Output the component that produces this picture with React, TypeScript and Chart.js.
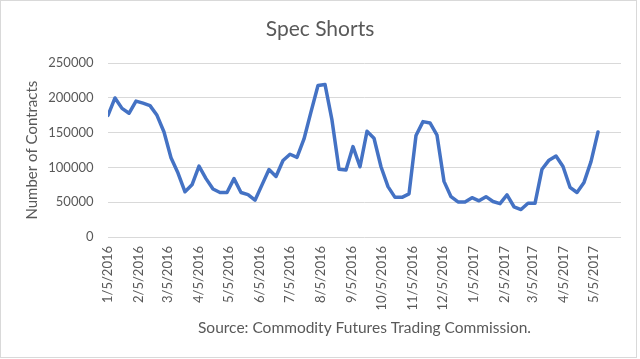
import React, { useEffect, useRef } from 'react';
import { Chart, registerables } from 'chart.js';

Chart.register(...registerables);

const weekDates: string[] = [
  '1/5/2016', '1/12/2016', '1/19/2016', '1/26/2016',
  '2/2/2016', '2/9/2016', '2/16/2016', '2/23/2016',
  '3/1/2016', '3/8/2016', '3/15/2016', '3/22/2016', '3/29/2016',
  '4/5/2016', '4/12/2016', '4/19/2016', '4/26/2016',
  '5/3/2016', '5/10/2016', '5/17/2016', '5/24/2016', '5/31/2016',
  '6/7/2016', '6/14/2016', '6/21/2016', '6/28/2016',
  '7/5/2016', '7/12/2016', '7/19/2016', '7/26/2016',
  '8/2/2016', '8/9/2016', '8/16/2016', '8/23/2016', '8/30/2016',
  '9/6/2016', '9/13/2016', '9/20/2016', '9/27/2016',
  '10/4/2016', '10/11/2016', '10/18/2016', '10/25/2016',
  '11/1/2016', '11/8/2016', '11/15/2016', '11/22/2016', '11/29/2016',
  '12/6/2016', '12/13/2016', '12/20/2016', '12/27/2016',
  '1/3/2017', '1/10/2017', '1/17/2017', '1/24/2017', '1/31/2017',
  '2/7/2017', '2/14/2017', '2/21/2017', '2/28/2017',
  '3/7/2017', '3/14/2017', '3/21/2017', '3/28/2017',
  '4/4/2017', '4/11/2017', '4/18/2017', '4/25/2017',
  '5/2/2017', '5/9/2017',
];

const specShorts: number[] = [
  175000, 200000, 185000, 178000,
  195500, 192500, 189000, 175000,
  151000, 114000, 92000, 65000, 75000,
  102000, 84000, 69000, 64000,
  64000, 84000, 64000, 61000, 53000,
  75000, 97000, 87000, 110000,
  119000, 114500, 141000, 180000,
  218000, 219500, 168000, 97500, 96500,
  130000, 101000, 152000, 142000,
  101000, 72500, 57000, 57000,
  62000, 146000, 166000, 164000, 146500,
  80000, 58000, 50500, 50500,
  56500, 52000, 58000, 51000, 48000,
  60500, 43500, 39500, 48500,
  48500, 97500, 110500, 116500,
  101500, 71500, 64000, 78500,
  108500, 151000,
];

const monthTickLabels: string[] = [
  '1/5/2016', '2/5/2016', '3/5/2016', '4/5/2016', '5/5/2016', '6/5/2016',
  '7/5/2016', '8/5/2016', '9/5/2016', '10/5/2016', '11/5/2016', '12/5/2016',
  '1/5/2017', '2/5/2017', '3/5/2017', '4/5/2017', '5/5/2017',
];

const axisEndDate = '6/1/2017';
const yTickValues: number[] = [0, 50000, 100000, 150000, 200000, 250000];

const chartTitle = 'Spec Shorts';
const yAxisTitle = 'Number of Contracts';
const sourceNote = 'Source: Commodity Futures Trading Commission.';

const TEXT = '#595959';
const GRID = '#D9D9D9';
const LINE = '#4472C4';
const FONT = 'Lato';

function toUTC(s: string): number {
  const [m, d, y] = s.split('/').map(Number);
  return Date.UTC(y, m - 1, d);
}
const origin = toUTC(weekDates[0]);
function dayOf(s: string): number {
  return Math.round((toUTC(s) - origin) / 86400000);
}

const frame = {
  id: 'frame',
  beforeDraw(chart: any) {
    const ctx = chart.ctx;
    ctx.save();
    ctx.fillStyle = '#ffffff';
    ctx.fillRect(0, 0, chart.width, chart.height);
    ctx.strokeStyle = GRID;
    ctx.lineWidth = 1;
    ctx.strokeRect(0.5, 0.5, 636, 357);
    ctx.restore();
  },
};

export default function App() {
  const ref = useRef<HTMLCanvasElement>(null);

  useEffect(() => {
    document.body.style.margin = '0';
    const tickDays = monthTickLabels.map(dayOf);
    const labelByDay = new Map<number, string>();
    tickDays.forEach((d, i) => labelByDay.set(d, monthTickLabels[i]));

    const chart = new Chart(ref.current as HTMLCanvasElement, {
      type: 'line',
      data: {
        datasets: [
          {
            label: chartTitle,
            data: weekDates.map((d, i) => ({ x: dayOf(d), y: specShorts[i] })),
            borderColor: LINE,
            backgroundColor: LINE,
            borderWidth: 3.5,
            pointRadius: 0,
            tension: 0,
            borderJoinStyle: 'round',
            borderCapStyle: 'round',
            fill: false,
            yAxisID: 'y',
          },
        ],
      },
      options: {
        responsive: false,
        animation: false,
        layout: { padding: { left: 0, right: 0, top: 0, bottom: 0 } },
        plugins: {
          legend: { display: false },
          tooltip: { enabled: false },
          title: {
            display: true,
            text: chartTitle,
            color: TEXT,
            font: { family: FONT, size: 21, weight: 'normal' },
            padding: { top: 17, bottom: 21 },
          },
        },
        scales: {
          x: {
            type: 'linear',
            min: 0,
            max: dayOf(axisEndDate),
            afterBuildTicks: (axis: any) => {
              axis.ticks = tickDays.map((v) => ({ value: v }));
            },
            afterFit: (axis: any) => {
              axis.height = 122;
            },
            grid: { display: false, drawTicks: false },
            border: { display: false },
            ticks: {
              autoSkip: false,
              maxRotation: 90,
              minRotation: 90,
              padding: 9,
              color: TEXT,
              font: { family: FONT, size: 13 },
              callback: (v: any) => labelByDay.get(Number(v)) ?? '',
            },
            title: {
              display: true,
              text: sourceNote,
              color: TEXT,
              font: { family: FONT, size: 15.5 },
              padding: { top: 0, bottom: 22 },
            },
          },
          y: {
            min: 0,
            max: 250000,
            afterBuildTicks: (axis: any) => {
              axis.ticks = yTickValues.map((v) => ({ value: v }));
            },
            afterFit: (axis: any) => {
              axis.width = 108;
            },
            grid: { color: GRID, lineWidth: 1, drawTicks: false },
            border: { display: false },
            ticks: {
              padding: 14.5,
              color: TEXT,
              font: { family: FONT, size: 13 },
              callback: (v: any) => String(v),
            },
            title: {
              display: true,
              text: yAxisTitle,
              color: TEXT,
              font: { family: FONT, size: 15 },
              padding: { top: 23.5, bottom: 0 },
            },
          },
          yRightMargin: {
            position: 'right',
            min: 0,
            max: 1,
            afterFit: (axis: any) => {
              axis.width = 19;
            },
            grid: { display: false, drawTicks: false },
            border: { display: false },
            ticks: { display: false },
          },
        },
      },
      plugins: [frame],
    } as any);

    return () => chart.destroy();
  }, []);

  return (
    <div style={{ width: 640, height: 359 }}>
      <canvas ref={ref} width={640} height={359} style={{ display: 'block', width: 640, height: 359 }} />
    </div>
  );
}
